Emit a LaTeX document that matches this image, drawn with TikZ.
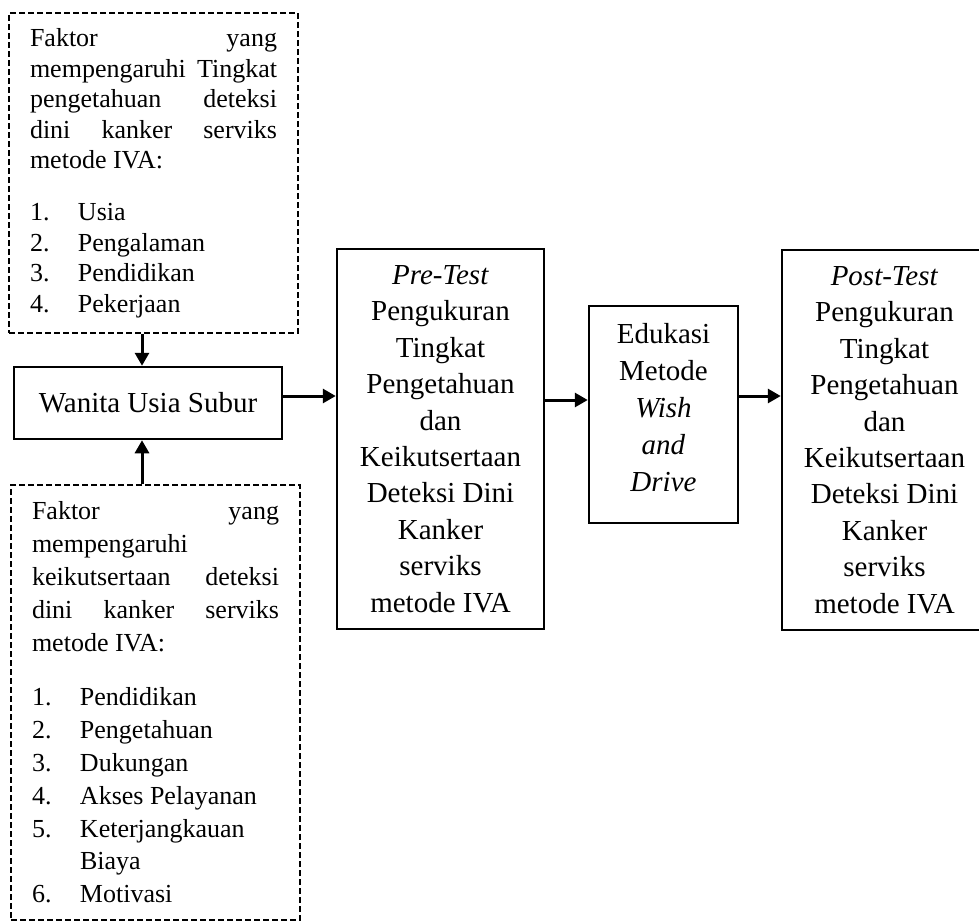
\documentclass[tikz,border=0pt]{standalone}
\usepackage{fontspec}
\setmainfont{Liberation Serif}
\usetikzlibrary{arrows.meta}

\newcommand{\butir}[2]{\makebox[48pt][l]{#1}#2}

\begin{document}
\tolerance=10000
\hyphenpenalty=10000
\begin{tikzpicture}[x=1pt,y=-1pt,>={Triangle[length=13pt,width=14pt]}]
    \tikzstyle{kotak}=[draw,line width=2.5pt,inner sep=0pt,align=center]
    \tikzstyle{faktor}=[draw,line width=2pt,dash pattern=on 6pt off 3pt,text width=247pt,inner xsep=21pt,inner ysep=0pt,align=justify]
    \tikzstyle{panah}=[->,line width=3pt]
    \path[clip,use as bounding box] (0,0) rectangle (979,921);

    % Faktor boxes
    \node[faktor,minimum height=320pt,font=\fontsize{26}{30.5}\selectfont] (fk1) at (153.5,173)
        {Faktor yang\linebreak mempengaruhi Tingkat\linebreak pengetahuan deteksi\linebreak dini kanker serviks\linebreak metode IVA:\par\vspace{21.5pt}%
        \butir{1.}{Usia}\par\butir{2.}{Pengalaman}\par\butir{3.}{Pendidikan}\par\butir{4.}{Pekerjaan}};
    \node[faktor,minimum height=435pt,font=\fontsize{26}{32.8}\selectfont] (fk2) at (155.5,702.5)
        {Faktor yang\linebreak mempengaruhi\linebreak keikutsertaan deteksi\linebreak dini kanker serviks\linebreak metode IVA:\par\vspace{22pt}%
        \butir{1.}{Pendidikan}\par\butir{2.}{Pengetahuan}\par\butir{3.}{Dukungan}\par\butir{4.}{Akses Pelayanan}\par
        \butir{5.}{Keterjangkauan}\par\butir{}{Biaya}\par\butir{6.}{Motivasi}};

    \node[kotak,minimum width=268pt,minimum height=72pt,font=\fontsize{29}{34}\selectfont] (wus) at (148,403) {Wanita Usia Subur};

    % Test and education boxes
    \node[kotak,minimum width=207pt,minimum height=380pt,font=\fontsize{29}{36.4}\selectfont] (pre) at (440.5,439)
        {\textit{Pre-Test}\\Pengukuran\\Tingkat\\Pengetahuan\\dan\\Keikutsertaan\\Deteksi Dini\\Kanker\\serviks\\metode IVA};
    \node[kotak,minimum width=149pt,minimum height=217pt,text depth=14pt,font=\fontsize{29}{37.2}\selectfont] (edu) at (663.5,414.5)
        {Edukasi\\Metode\\\textit{Wish}\\\textit{and}\\\textit{Drive}};
    \node[kotak,minimum width=205pt,minimum height=380pt,font=\fontsize{29}{36.4}\selectfont] (post) at (884.5,440)
        {\textit{Post-Test}\\Pengukuran\\Tingkat\\Pengetahuan\\dan\\Keikutsertaan\\Deteksi Dini\\Kanker\\serviks\\metode IVA};

    % Arrows
    \path ([xshift=-6pt]wus.north |- fk1.south) edge[panah] ([xshift=-6pt]wus.north);
    \path ([xshift=-6pt]wus.south |- fk2.north) edge[panah] ([xshift=-6pt]wus.south);
    \path ([yshift=7pt]wus.east) edge[panah] ([yshift=7pt]wus.east -| pre.west);
    \path ([yshift=14.5pt]edu.west -| pre.east) edge[panah] ([yshift=14.5pt]edu.west);
    \path ([yshift=18.5pt]edu.east) edge[panah] ([yshift=18.5pt]edu.east -| post.west);
\end{tikzpicture}
\end{document}
